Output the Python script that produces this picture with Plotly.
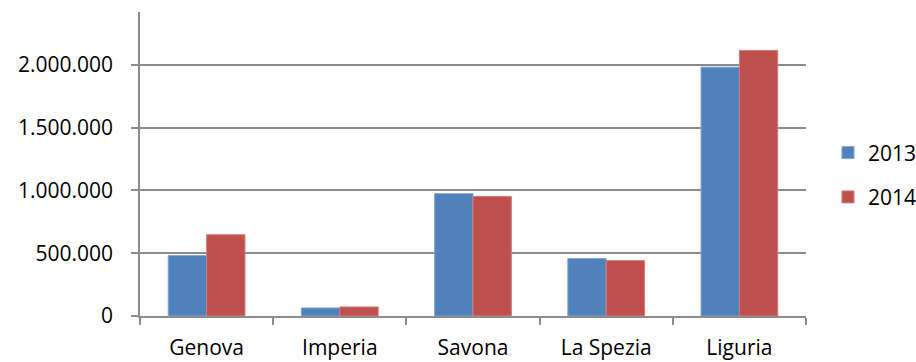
import plotly.graph_objects as go

# Province / region categories and yearly totals
provinces = ["Genova", "Imperia", "Savona", "La Spezia", "Liguria"]
values_2013 = [481000, 64000, 974000, 457000, 1981000]
values_2014 = [647000, 72000, 952000, 441000, 2114000]
years = ["2013", "2014"]

tick_vals = [0, 500000, 1000000, 1500000, 2000000]
tick_text = ["0", "500.000", "1.000.000", "1.500.000", "2.000.000"]

BLUE = "#4F81BD"
RED = "#C0504D"
AXIS_GREY = "#8C8C8C"
FONT = "Open Sans"
FSIZE = 21

fig = go.Figure()
fig.add_trace(go.Bar(
    x=provinces, y=values_2013, name=years[0], legendgroup="a",
    marker=dict(color=BLUE, line=dict(color="#7FA3D1", width=1)),
))
fig.add_trace(go.Bar(
    x=provinces, y=values_2014, name=years[1], legendgroup="b",
    marker=dict(color=RED, line=dict(color="#D67C7A", width=1)),
))

fig.update_layout(
    width=916, height=362,
    margin=dict(l=140, r=110, t=12, b=46, autoexpand=False),
    paper_bgcolor="white", plot_bgcolor="white",
    barmode="group", bargap=0.424, bargroupgap=0,
    font=dict(family=FONT, size=FSIZE, color="#000000"),
    showlegend=True,
    legend=dict(
        x=1.033, y=0.464, xanchor="left", yanchor="middle",
        font=dict(family=FONT, size=FSIZE),
        tracegroupgap=14, itemwidth=30,
        bgcolor="rgba(0,0,0,0)",
    ),
)

fig.update_xaxes(
    showgrid=False, showline=True, linecolor=AXIS_GREY, linewidth=1.5,
    ticks="outside", ticklen=7, tickcolor=AXIS_GREY, tickwidth=1.5,
    tickson="boundaries", ticklabelstandoff=12,
    tickfont=dict(family=FONT, size=FSIZE),
    zeroline=False,
)
fig.update_yaxes(
    range=[0, 2420000],
    tickvals=tick_vals, ticktext=tick_text,
    showgrid=True, gridcolor=AXIS_GREY, gridwidth=1.5,
    showline=True, linecolor=AXIS_GREY, linewidth=1.5,
    ticks="outside", ticklen=7, tickcolor=AXIS_GREY, tickwidth=1.5,
    ticklabelstandoff=14,
    tickfont=dict(family=FONT, size=FSIZE),
    zeroline=False,
)

fig.write_html("out.html")
